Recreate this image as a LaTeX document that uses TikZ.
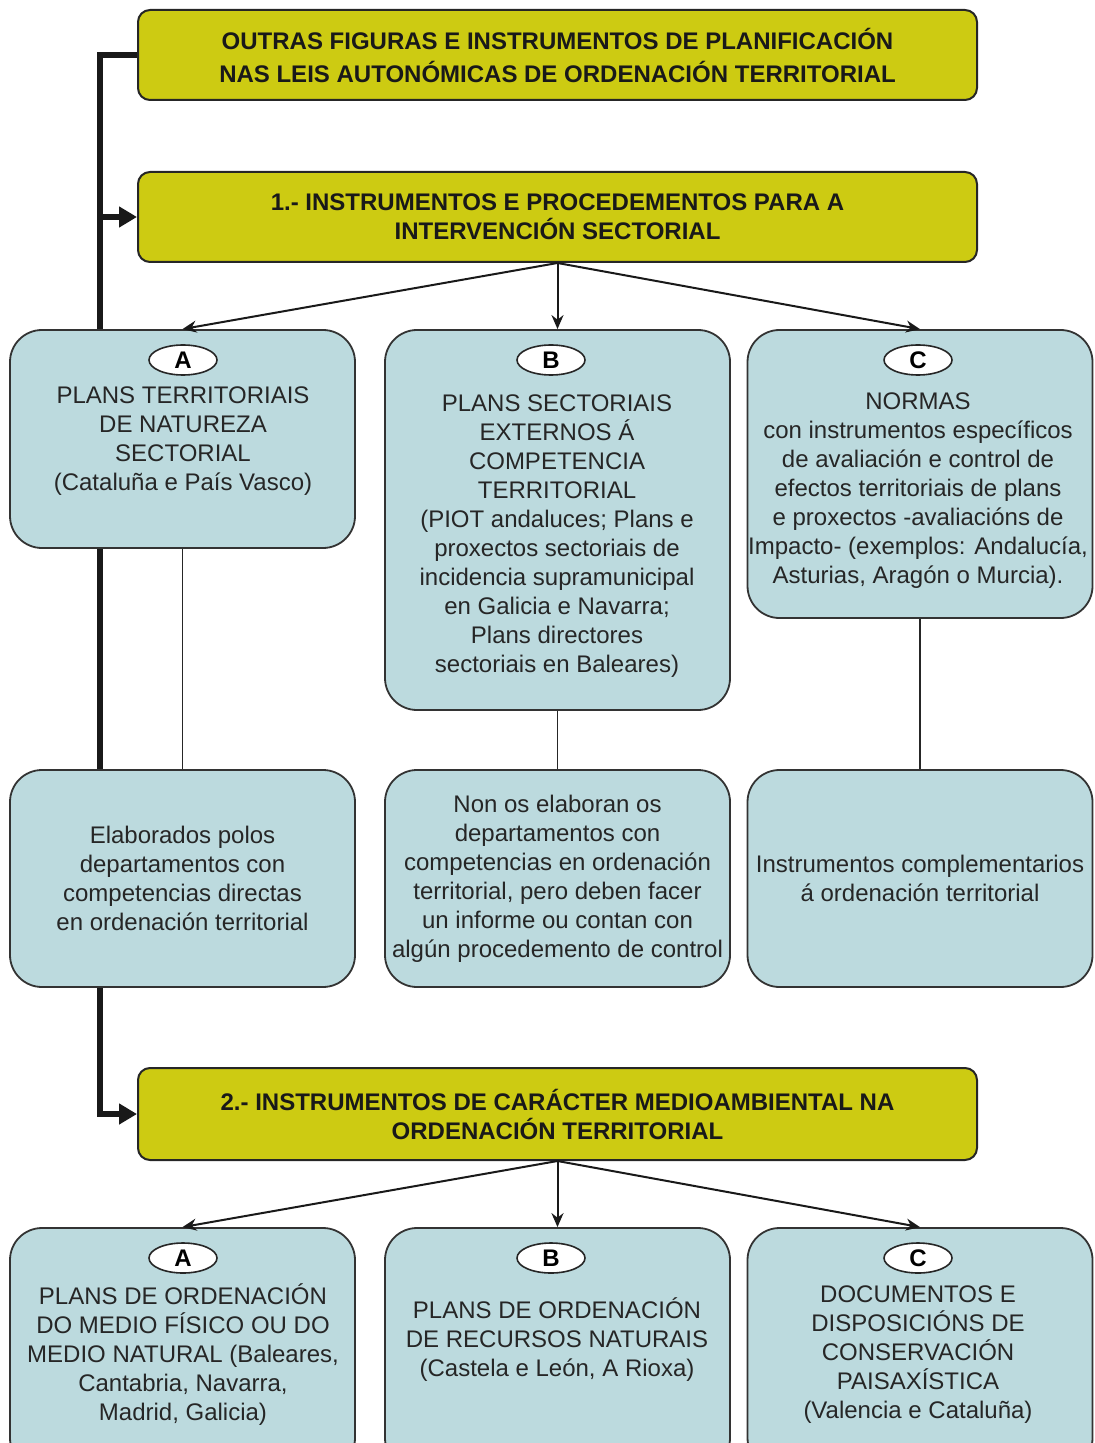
\documentclass[tikz,border=0pt]{standalone}
\usepackage{fontspec}
\setmainfont{Liberation Sans}
\usetikzlibrary{arrows.meta,backgrounds,shapes.geometric}

\definecolor{ochre}{RGB}{205,203,18}
\definecolor{paleblue}{RGB}{188,218,222}

\begin{document}
\begin{tikzpicture}[x=0.5pt,y=-0.5pt,
  every node/.style={inner sep=0pt,font=\fontsize{12}{14.5}\selectfont},
  headbox/.style={draw=black!85,line width=1pt,fill=ochre,rounded corners=6pt,
    minimum width=419.5pt,minimum height=45pt,align=center,text=black!90,
    font=\fontsize{12}{14.5}\selectfont\bfseries},
  bluebox/.style={draw=black!80,line width=0.9pt,fill=paleblue,rounded corners=16pt,
    minimum width=172.5pt,align=center,text=black!85},
  tag/.style={draw=black!85,ellipse,fill=white,line width=0.8pt,minimum width=34pt,
    minimum height=15pt,font=\fontsize{12}{14}\selectfont\bfseries},
  txt/.style={align=center,text=black!85},
  arr/.style={draw=black!90,line width=1pt,-{Stealth[length=7pt,width=6pt]}},
  link/.style={draw=black!85,line width=0.8pt},
  trunk/.style={draw=black!90,line width=3pt}]

\useasboundingbox (0,0) rectangle (1094,1443);
\clip (0,0) rectangle (1094,1443);

% cabeceiras
\node[headbox,font=\fontsize{12}{16.5}\selectfont\bfseries] (top) at (557.5,55)
  {OUTRAS FIGURAS E INSTRUMENTOS DE PLANIFICACIÓN\\NAS LEIS AUTONÓMICAS DE ORDENACIÓN TERRITORIAL};
\node[headbox] (sec1) at (557.5,217)
  {1.- INSTRUMENTOS E PROCEDEMENTOS PARA A\\INTERVENCIÓN SECTORIAL};
\node[headbox,minimum height=46pt] (sec2) at (557.5,1114)
  {2.- INSTRUMENTOS DE CARÁCTER MEDIOAMBIENTAL NA\\ORDENACIÓN TERRITORIAL};

% bloque 1
\node[bluebox,minimum height=109pt] (planA) at (182.5,439) {};
\node[bluebox,minimum height=190pt] (planB) at (557.5,520) {};
\node[bluebox,minimum height=144pt] (planC) at (920,474) {};
\node[tag] (tagA) at (183,360) {A};
\node[tag] (tagB) at (551,360) {B};
\node[tag] (tagC) at (918,360) {C};
\node[txt] (txtA) at (183,441)
  {PLANS TERRITORIAIS\\DE NATUREZA\\SECTORIAL\\(Cataluña e País Vasco)};
\node[txt] (txtB) at (557,536)
  {PLANS SECTORIAIS\\EXTERNOS Á\\COMPETENCIA\\TERRITORIAL\\(PIOT andaluces; Plans e\\proxectos sectoriais de\\incidencia supramunicipal\\en Galicia e Navarra;\\Plans directores\\sectoriais en Baleares)};
\node[txt] (txtC) at (918,490.5)
  {NORMAS\\con instrumentos específicos\\de avaliación e control de\\efectos territoriais de plans\\e proxectos -avaliacións de\\Impacto- (exemplos: Andalucía,\\Asturias, Aragón o Murcia).};

\node[bluebox,minimum height=108.5pt] (noteA) at (182.5,878.5)
  {Elaborados polos\\departamentos con\\competencias directas\\en ordenación territorial};
\node[bluebox,minimum height=108.5pt] (noteB) at (557.5,878.5)
  {Non os elaboran os\\departamentos con\\competencias en ordenación\\territorial, pero deben facer\\un informe ou contan con\\algún procedemento de control};
\node[bluebox,minimum height=108.5pt] (noteC) at (920,878.5)
  {Instrumentos complementarios\\á ordenación territorial};

% bloque 2
\node[bluebox,minimum height=121pt] (envA) at (182.5,1349) {};
\node[bluebox,minimum height=121pt] (envB) at (557.5,1349) {};
\node[bluebox,minimum height=121pt] (envC) at (920,1349) {};
\node[tag] (tagA2) at (183,1258) {A};
\node[tag] (tagB2) at (551,1258) {B};
\node[tag] (tagC2) at (918,1258) {C};
\node[txt] (txtA2) at (183,1354.5)
  {PLANS DE ORDENACIÓN\\DO MEDIO FÍSICO OU DO\\MEDIO NATURAL (Baleares,\\Cantabria, Navarra,\\Madrid, Galicia)};
\node[txt] (txtB2) at (557,1339.5)
  {PLANS DE ORDENACIÓN\\DE RECURSOS NATURAIS\\(Castela e León, A Rioxa)};
\node[txt] (txtC2) at (918,1354.5)
  {DOCUMENTOS E\\DISPOSICIÓNS DE\\CONSERVACIÓN\\PAISAXÍSTICA\\(Valencia e Cataluña)};

% frechas
\draw[arr] (sec1.south) -- (planA.north);
\draw[arr] (sec1.south) -- (planB.north);
\draw[arr] (sec1.south) -- (planC.north);
\draw[arr] (sec2.south) -- (envA.north);
\draw[arr] (sec2.south) -- (envB.north);
\draw[arr] (sec2.south) -- (envC.north);
\draw[link] (planA) -- (noteA);
\draw[link] (planB) -- (noteB);
\draw[link] (planC.south) -- (planC.south |- noteC.north);

% eixo esquerdo
\coordinate (spine) at (100,0);
\begin{scope}[on background layer]
\draw[trunk,-{Triangle[length=9pt,width=10pt]}] (top.west) -- (top.west -| spine)
  -- (sec2.west -| spine) -- (sec2.west);
\draw[trunk,-{Triangle[length=9pt,width=10pt]}] (sec1.west -| spine) -- (sec1.west);
\end{scope}
\end{tikzpicture}
\end{document}
